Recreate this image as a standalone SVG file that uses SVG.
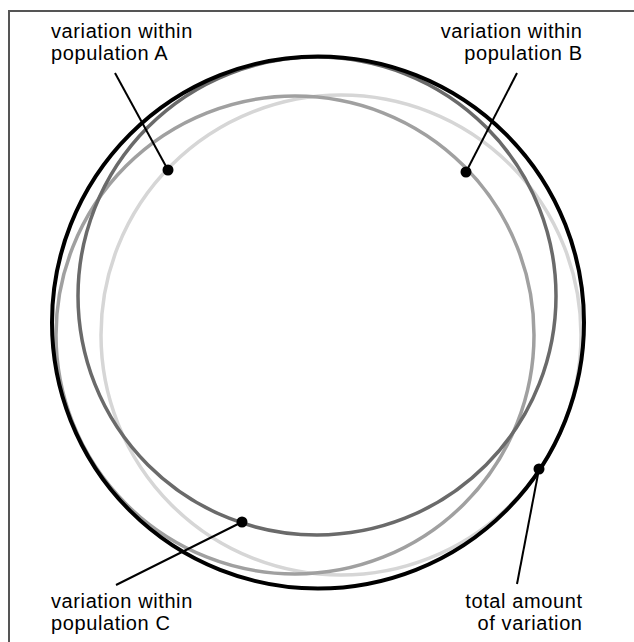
<svg xmlns="http://www.w3.org/2000/svg" width="634" height="642" viewBox="0 0 634 642">
<style>
.ring{fill:none;stroke-width:3.5}
.lbl{font-family:"Liberation Sans",Arial,Helvetica,sans-serif;font-size:20px;letter-spacing:0.6px;fill:#000}
.lead{stroke:#000;stroke-width:2;fill:none}
.dot{fill:#000}
</style>
<rect width="634" height="642" fill="#fff"/>
<path d="M9 642 V11 H634" fill="none" stroke="#555" stroke-width="2"/>
<g id="popA"><circle class="ring" cx="341" cy="335" r="240" stroke="#d6d6d6"/></g>
<g id="popB"><circle class="ring" cx="295" cy="335" r="239" stroke="#a0a0a0"/></g>
<g id="popC"><circle class="ring" cx="317" cy="296" r="239" stroke="#6a6a6a"/></g>
<g id="total"><circle class="ring" cx="318" cy="322.5" r="266" stroke="#000" style="stroke-width:4"/></g>
<g id="connectors">
<line class="lead" x1="115" y1="73" x2="168" y2="170"/>
<line class="lead" x1="517" y1="73" x2="466" y2="172"/>
<line class="lead" x1="116" y1="585" x2="242" y2="522"/>
<line class="lead" x1="517" y1="584" x2="539" y2="469"/>
<circle class="dot" cx="168" cy="170" r="5.5"/>
<circle class="dot" cx="466" cy="172" r="5.5"/>
<circle class="dot" cx="242" cy="522" r="5.5"/>
<circle class="dot" cx="539" cy="469" r="5.5"/>
</g>
<g id="labelA"><text class="lbl" x="51" y="38">variation within</text><text class="lbl" x="51" y="60">population A</text></g>
<g id="labelB"><text class="lbl" x="582.6" y="38" text-anchor="end">variation within</text><text class="lbl" x="582.6" y="60" text-anchor="end">population B</text></g>
<g id="labelC"><text class="lbl" x="51" y="608">variation within</text><text class="lbl" x="51" y="630">population C</text></g>
<g id="labelTotal"><text class="lbl" x="582.6" y="608" text-anchor="end">total amount</text><text class="lbl" x="582.6" y="630" text-anchor="end">of variation</text></g>
</svg>
